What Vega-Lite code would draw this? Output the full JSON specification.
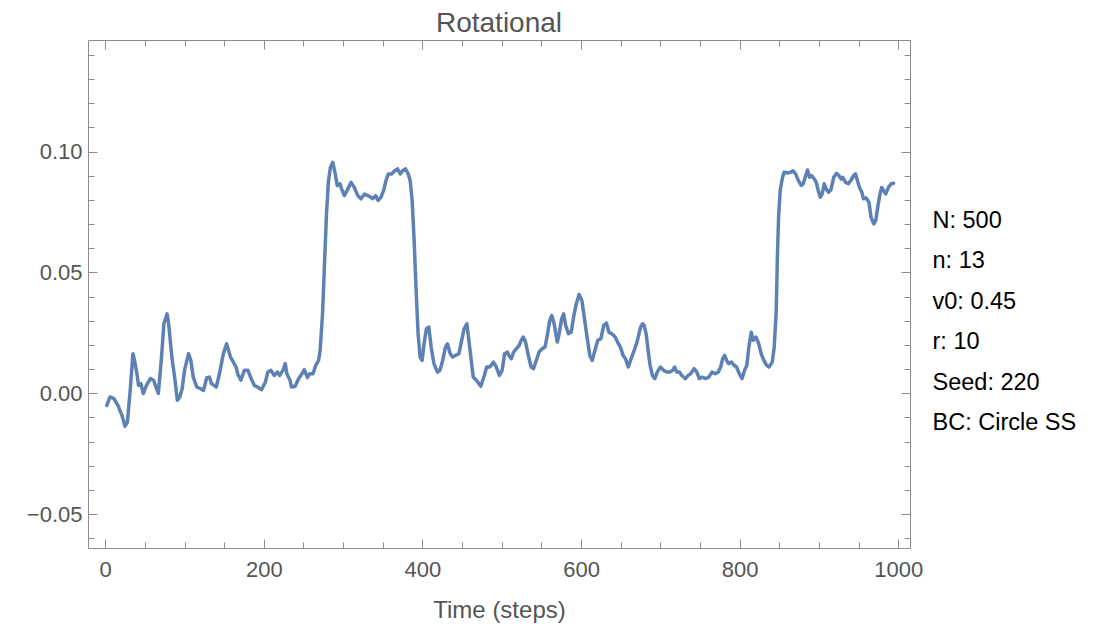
{
  "$schema": "https://vega.github.io/schema/vega-lite/v6.json",
  "width": 822,
  "height": 508,
  "autosize": {"type": "none"},
  "padding": {"left": 88, "top": 40, "right": 198, "bottom": 82},
  "background": "white",
  "config": {
    "font": "Liberation Sans",
    "view": {"stroke": "#8c8c8c", "strokeWidth": 1},
    "axis": {
      "domain": false,
      "grid": false,
      "tickColor": "#8c8c8c",
      "tickWidth": 1,
      "labelColor": "#555555",
      "labelFont": "Liberation Sans",
      "labelFontSize": 22,
      "titleFont": "Liberation Sans",
      "titleColor": "#555555",
      "titleFontSize": 24,
      "titleFontWeight": "normal",
      "labelFlush": false,
      "labelOverlap": false
    }
  },
  "title": {
    "text": "Rotational",
    "font": "Liberation Sans",
    "fontSize": 28,
    "fontWeight": "normal",
    "color": "#555555",
    "anchor": "middle",
    "offset": 2
  },
  "datasets": {
    "series": [
      {"t": 2, "v": -0.0050}, {"t": 6, "v": -0.0015}, {"t": 11, "v": -0.0022}, {"t": 16, "v": -0.0050},
      {"t": 21, "v": -0.0090}, {"t": 25, "v": -0.0136}, {"t": 28, "v": -0.0118}, {"t": 31.5, "v": 0.0012},
      {"t": 35, "v": 0.0164}, {"t": 37, "v": 0.0136}, {"t": 40, "v": 0.0081}, {"t": 42, "v": 0.0033},
      {"t": 45, "v": 0.0040}, {"t": 48, "v": -0.0001}, {"t": 52, "v": 0.0033}, {"t": 57, "v": 0.0061},
      {"t": 61, "v": 0.0054}, {"t": 64, "v": 0.0026}, {"t": 67, "v": 0.0000}, {"t": 71, "v": 0.0150},
      {"t": 74, "v": 0.0288}, {"t": 78, "v": 0.0329}, {"t": 80, "v": 0.0288}, {"t": 84, "v": 0.0150},
      {"t": 88, "v": 0.0054}, {"t": 91, "v": -0.0029}, {"t": 94, "v": -0.0015}, {"t": 97, "v": 0.0019},
      {"t": 100, "v": 0.0095}, {"t": 105, "v": 0.0164}, {"t": 108, "v": 0.0136}, {"t": 111, "v": 0.0067},
      {"t": 115.5, "v": 0.0026}, {"t": 120.5, "v": 0.0019}, {"t": 124, "v": 0.0012}, {"t": 128, "v": 0.0065},
      {"t": 131.5, "v": 0.0067}, {"t": 134, "v": 0.0040}, {"t": 140, "v": 0.0026}, {"t": 144, "v": 0.0081},
      {"t": 149, "v": 0.0164}, {"t": 153, "v": 0.0205}, {"t": 158, "v": 0.0150}, {"t": 165, "v": 0.0109},
      {"t": 167, "v": 0.0081}, {"t": 171, "v": 0.0054}, {"t": 175.5, "v": 0.0095}, {"t": 180, "v": 0.0095},
      {"t": 184, "v": 0.0061}, {"t": 188, "v": 0.0033}, {"t": 193, "v": 0.0024}, {"t": 197, "v": 0.0015},
      {"t": 202, "v": 0.0047}, {"t": 205, "v": 0.0088}, {"t": 209, "v": 0.0095}, {"t": 213, "v": 0.0074},
      {"t": 217, "v": 0.0088}, {"t": 220, "v": 0.0074}, {"t": 224, "v": 0.0095}, {"t": 227, "v": 0.0123},
      {"t": 229, "v": 0.0081}, {"t": 233, "v": 0.0054}, {"t": 235, "v": 0.0026}, {"t": 239.5, "v": 0.0029},
      {"t": 244, "v": 0.0061}, {"t": 248, "v": 0.0081}, {"t": 251, "v": 0.0098}, {"t": 255, "v": 0.0065},
      {"t": 258, "v": 0.0081}, {"t": 262, "v": 0.0081}, {"t": 265.5, "v": 0.0116}, {"t": 269, "v": 0.0136},
      {"t": 271, "v": 0.0178}, {"t": 274, "v": 0.0329}, {"t": 276.5, "v": 0.0536}, {"t": 279, "v": 0.0743},
      {"t": 281.5, "v": 0.0880}, {"t": 284, "v": 0.0935}, {"t": 287, "v": 0.0956}, {"t": 290, "v": 0.0908},
      {"t": 292.5, "v": 0.0860}, {"t": 296, "v": 0.0867}, {"t": 298, "v": 0.0846}, {"t": 301.5, "v": 0.0818},
      {"t": 306, "v": 0.0846}, {"t": 310, "v": 0.0873}, {"t": 314, "v": 0.0852}, {"t": 318.5, "v": 0.0818},
      {"t": 322.5, "v": 0.0805}, {"t": 327, "v": 0.0825}, {"t": 331, "v": 0.0818}, {"t": 335, "v": 0.0811},
      {"t": 337, "v": 0.0805}, {"t": 341, "v": 0.0818}, {"t": 344, "v": 0.0798}, {"t": 347.5, "v": 0.0811},
      {"t": 351, "v": 0.0839}, {"t": 354, "v": 0.0880}, {"t": 357, "v": 0.0908}, {"t": 361, "v": 0.0908},
      {"t": 365, "v": 0.0921}, {"t": 368.5, "v": 0.0929}, {"t": 372, "v": 0.0908}, {"t": 375, "v": 0.0921},
      {"t": 378.5, "v": 0.0929}, {"t": 382, "v": 0.0908}, {"t": 384.5, "v": 0.0880}, {"t": 387, "v": 0.0798},
      {"t": 389.5, "v": 0.0632}, {"t": 392, "v": 0.0426}, {"t": 394.5, "v": 0.0247}, {"t": 397, "v": 0.0150},
      {"t": 399.5, "v": 0.0136}, {"t": 402, "v": 0.0205}, {"t": 405, "v": 0.0267}, {"t": 408, "v": 0.0274},
      {"t": 411, "v": 0.0191}, {"t": 414.5, "v": 0.0123}, {"t": 419, "v": 0.0088}, {"t": 422, "v": 0.0095},
      {"t": 425.5, "v": 0.0136}, {"t": 429, "v": 0.0191}, {"t": 431.5, "v": 0.0205}, {"t": 435, "v": 0.0164},
      {"t": 438, "v": 0.0150}, {"t": 441.5, "v": 0.0157}, {"t": 446, "v": 0.0164}, {"t": 449, "v": 0.0212},
      {"t": 452.5, "v": 0.0267}, {"t": 456, "v": 0.0288}, {"t": 458, "v": 0.0233}, {"t": 461, "v": 0.0150},
      {"t": 464, "v": 0.0067}, {"t": 468, "v": 0.0054}, {"t": 473.5, "v": 0.0029}, {"t": 478, "v": 0.0074},
      {"t": 481, "v": 0.0109}, {"t": 485, "v": 0.0109}, {"t": 489.5, "v": 0.0129}, {"t": 493, "v": 0.0109},
      {"t": 497, "v": 0.0074}, {"t": 500.5, "v": 0.0095}, {"t": 503.5, "v": 0.0164}, {"t": 507, "v": 0.0171},
      {"t": 509, "v": 0.0157}, {"t": 512, "v": 0.0143}, {"t": 515, "v": 0.0171}, {"t": 518.5, "v": 0.0185},
      {"t": 522, "v": 0.0198}, {"t": 524.5, "v": 0.0219}, {"t": 527, "v": 0.0233}, {"t": 530, "v": 0.0212},
      {"t": 533.5, "v": 0.0157}, {"t": 537, "v": 0.0109}, {"t": 540, "v": 0.0102}, {"t": 543.5, "v": 0.0136},
      {"t": 547, "v": 0.0171}, {"t": 551, "v": 0.0185}, {"t": 554.5, "v": 0.0191}, {"t": 557, "v": 0.0233},
      {"t": 560.5, "v": 0.0302}, {"t": 563, "v": 0.0322}, {"t": 566, "v": 0.0288}, {"t": 570, "v": 0.0212},
      {"t": 572, "v": 0.0240}, {"t": 575.5, "v": 0.0309}, {"t": 578, "v": 0.0329}, {"t": 580.5, "v": 0.0281},
      {"t": 584, "v": 0.0247}, {"t": 587.5, "v": 0.0253}, {"t": 590.5, "v": 0.0315}, {"t": 594, "v": 0.0371},
      {"t": 597.5, "v": 0.0409}, {"t": 601, "v": 0.0384}, {"t": 604, "v": 0.0315}, {"t": 607.5, "v": 0.0233},
      {"t": 611, "v": 0.0157}, {"t": 614, "v": 0.0136}, {"t": 617.5, "v": 0.0178}, {"t": 621, "v": 0.0219},
      {"t": 625, "v": 0.0226}, {"t": 628.5, "v": 0.0281}, {"t": 632, "v": 0.0291}, {"t": 635, "v": 0.0253},
      {"t": 638.5, "v": 0.0247}, {"t": 643, "v": 0.0233}, {"t": 646, "v": 0.0212}, {"t": 649.5, "v": 0.0191},
      {"t": 653, "v": 0.0157}, {"t": 656, "v": 0.0143}, {"t": 659.5, "v": 0.0109}, {"t": 663, "v": 0.0143},
      {"t": 667, "v": 0.0178}, {"t": 670.5, "v": 0.0212}, {"t": 675, "v": 0.0274}, {"t": 677.5, "v": 0.0288},
      {"t": 679.5, "v": 0.0281}, {"t": 682, "v": 0.0247}, {"t": 684.5, "v": 0.0178}, {"t": 687, "v": 0.0116},
      {"t": 690, "v": 0.0074}, {"t": 693, "v": 0.0061}, {"t": 696, "v": 0.0088}, {"t": 700, "v": 0.0109},
      {"t": 704, "v": 0.0095}, {"t": 708, "v": 0.0088}, {"t": 712, "v": 0.0088}, {"t": 715.5, "v": 0.0095},
      {"t": 718, "v": 0.0109}, {"t": 720.5, "v": 0.0088}, {"t": 724, "v": 0.0088}, {"t": 727, "v": 0.0074},
      {"t": 731.5, "v": 0.0061}, {"t": 735, "v": 0.0074}, {"t": 738, "v": 0.0081}, {"t": 742.5, "v": 0.0102},
      {"t": 746, "v": 0.0088}, {"t": 749, "v": 0.0061}, {"t": 752.5, "v": 0.0067}, {"t": 757, "v": 0.0061},
      {"t": 761, "v": 0.0067}, {"t": 765, "v": 0.0088}, {"t": 769, "v": 0.0081}, {"t": 773, "v": 0.0088},
      {"t": 776, "v": 0.0109}, {"t": 778.5, "v": 0.0143}, {"t": 781, "v": 0.0157}, {"t": 783.5, "v": 0.0136},
      {"t": 786, "v": 0.0123}, {"t": 789.5, "v": 0.0129}, {"t": 793, "v": 0.0116}, {"t": 796, "v": 0.0109},
      {"t": 799.5, "v": 0.0081}, {"t": 803, "v": 0.0061}, {"t": 806, "v": 0.0095}, {"t": 809, "v": 0.0116},
      {"t": 811.5, "v": 0.0191}, {"t": 814.5, "v": 0.0253}, {"t": 817, "v": 0.0219}, {"t": 820.5, "v": 0.0233},
      {"t": 824, "v": 0.0205}, {"t": 827, "v": 0.0164}, {"t": 830.5, "v": 0.0136}, {"t": 834, "v": 0.0116},
      {"t": 837, "v": 0.0109}, {"t": 841, "v": 0.0129}, {"t": 843.5, "v": 0.0191}, {"t": 846, "v": 0.0340},
      {"t": 847.5, "v": 0.0563}, {"t": 849, "v": 0.0729}, {"t": 851, "v": 0.0839}, {"t": 854, "v": 0.0894},
      {"t": 856, "v": 0.0915}, {"t": 860.5, "v": 0.0912}, {"t": 864, "v": 0.0915}, {"t": 867, "v": 0.0921},
      {"t": 870.5, "v": 0.0908}, {"t": 874, "v": 0.0880}, {"t": 877.5, "v": 0.0860}, {"t": 880, "v": 0.0867},
      {"t": 882.5, "v": 0.0894}, {"t": 885.5, "v": 0.0924}, {"t": 888, "v": 0.0894}, {"t": 890.5, "v": 0.0901},
      {"t": 894, "v": 0.0887}, {"t": 896.5, "v": 0.0873}, {"t": 899, "v": 0.0839}, {"t": 901.5, "v": 0.0811},
      {"t": 904, "v": 0.0825}, {"t": 906.5, "v": 0.0867}, {"t": 909, "v": 0.0846}, {"t": 912, "v": 0.0832},
      {"t": 915, "v": 0.0842}, {"t": 918.5, "v": 0.0894}, {"t": 922, "v": 0.0910}, {"t": 925, "v": 0.0901},
      {"t": 928, "v": 0.0887}, {"t": 930, "v": 0.0894}, {"t": 933.5, "v": 0.0873}, {"t": 937, "v": 0.0867},
      {"t": 940, "v": 0.0880}, {"t": 943.5, "v": 0.0901}, {"t": 946, "v": 0.0908}, {"t": 948.5, "v": 0.0880},
      {"t": 951, "v": 0.0852}, {"t": 954, "v": 0.0832}, {"t": 956, "v": 0.0805}, {"t": 959.5, "v": 0.0808},
      {"t": 963, "v": 0.0790}, {"t": 965.5, "v": 0.0729}, {"t": 969, "v": 0.0701}, {"t": 971.5, "v": 0.0715},
      {"t": 974, "v": 0.0770}, {"t": 976.5, "v": 0.0818}, {"t": 979, "v": 0.0852}, {"t": 981.5, "v": 0.0839},
      {"t": 984, "v": 0.0825}, {"t": 987.5, "v": 0.0852}, {"t": 991, "v": 0.0867}, {"t": 994, "v": 0.0869}
    ],
    "notes": [
      {"label": "N: 500"},
      {"label": "n: 13"},
      {"label": "v0: 0.45"},
      {"label": "r: 10"},
      {"label": "Seed: 220"},
      {"label": "BC: Circle SS"}
    ]
  },
  "layer": [
    {
      "data": {"name": "series"},
      "mark": {"type": "point", "opacity": 0},
      "encoding": {
        "x": {"field": "t", "type": "quantitative",
          "axis": {"orient": "bottom", "values": [0,50,100,150,200,250,300,350,400,450,500,550,600,650,700,750,800,850,900,950,1000], "labels": false, "tickSize": 6, "offset": -6, "title": null}},
        "y": {"field": "v", "type": "quantitative",
          "axis": {"orient": "left", "values": [-0.06,-0.05,-0.04,-0.03,-0.02,-0.01,0,0.01,0.02,0.03,0.04,0.05,0.06,0.07,0.08,0.09,0.1,0.11,0.12,0.13,0.14], "labels": false, "tickSize": 6, "offset": -6, "title": null}}
      }
    },
    {
      "data": {"name": "series"},
      "mark": {"type": "point", "opacity": 0},
      "encoding": {
        "x": {"field": "t", "type": "quantitative",
          "axis": {"orient": "top", "values": [0,200,400,600,800,1000], "labels": false, "tickSize": 9, "offset": -9, "title": null}},
        "y": {"field": "v", "type": "quantitative",
          "axis": {"orient": "right", "values": [-0.05,0,0.05,0.1], "labels": false, "tickSize": 9, "offset": -9, "title": null}}
      }
    },
    {
      "data": {"name": "series"},
      "mark": {"type": "point", "opacity": 0},
      "encoding": {
        "x": {"field": "t", "type": "quantitative",
          "axis": {"orient": "top", "values": [0,50,100,150,200,250,300,350,400,450,500,550,600,650,700,750,800,850,900,950,1000], "labels": false, "tickSize": 6, "offset": -6, "title": null}},
        "y": {"field": "v", "type": "quantitative",
          "axis": {"orient": "right", "values": [-0.06,-0.05,-0.04,-0.03,-0.02,-0.01,0,0.01,0.02,0.03,0.04,0.05,0.06,0.07,0.08,0.09,0.1,0.11,0.12,0.13,0.14], "labels": false, "tickSize": 6, "offset": -6, "title": null}}
      }
    },
    {
      "mark": {"type": "rule", "color": "#6e6e6e", "strokeWidth": 1},
      "encoding": {"y": {"datum": 0, "type": "quantitative", "axis": null}}
    },
    {
      "data": {"name": "series"},
      "mark": {"type": "line", "color": "#5E81B5", "strokeWidth": 3.5, "strokeJoin": "round", "strokeCap": "round", "clip": true},
      "encoding": {
        "x": {"field": "t", "type": "quantitative",
          "scale": {"domain": [-21.7, 1014.7], "nice": false, "zero": false},
          "axis": {"orient": "bottom", "values": [0,200,400,600,800,1000], "format": "d", "tickSize": 9, "offset": -9, "labelPadding": 11, "title": "Time (steps)", "titlePadding": 18}},
        "y": {"field": "v", "type": "quantitative",
          "scale": {"domain": [-0.064, 0.1462], "nice": false, "zero": false},
          "axis": {"orient": "left", "values": [-0.05,0,0.05,0.1], "format": ".2f", "tickSize": 9, "offset": -9, "labelPadding": 6, "title": null}}
      }
    },
    {
      "data": {"name": "notes"},
      "mark": {"type": "point", "opacity": 0},
      "encoding": {
        "color": {"field": "label", "type": "nominal", "sort": null,
          "scale": {"range": ["#000000"]},
          "legend": {"title": null, "orient": "none", "legendX": 821, "legendY": 169, "padding": 0,
            "labelFont": "Liberation Sans", "labelFontSize": 23.5, "labelColor": "#000000", "labelLimit": 400,
            "labelOffset": 0, "symbolSize": 0, "symbolOpacity": 0, "symbolStrokeWidth": 0, "rowPadding": 15.5}}
      }
    }
  ],
  "resolve": {"axis": {"x": "independent", "y": "independent"}}
}
